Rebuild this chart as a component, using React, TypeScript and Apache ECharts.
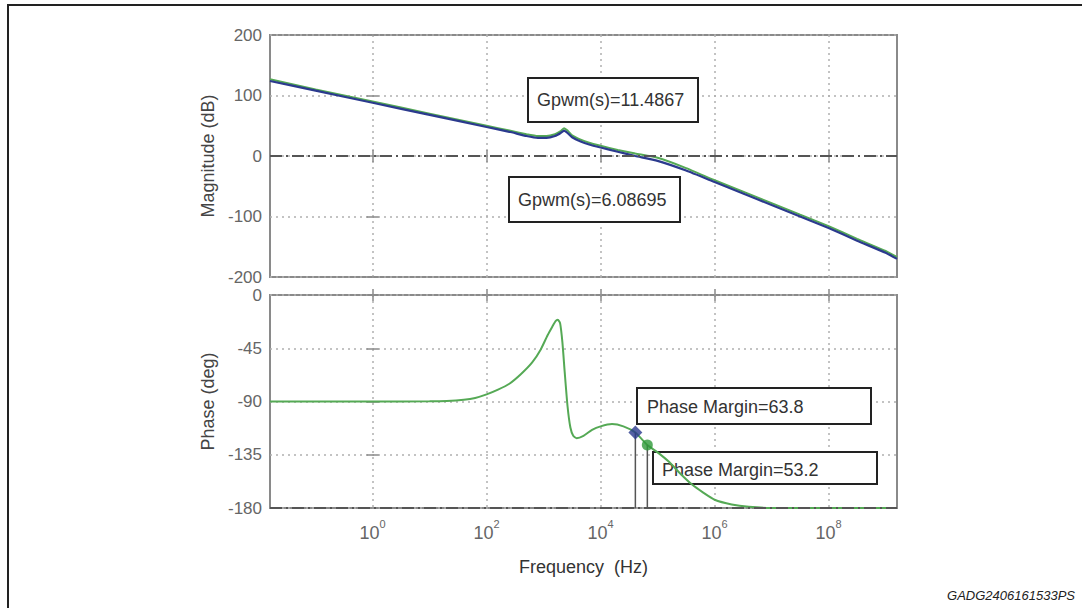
import React, { useEffect, useRef } from "react";
import * as echarts from "echarts";

// log10 of frequency (Hz) for magnitude curves
const magLogF = [-1.8, -1, 0, 1, 2, 2.4, 2.7, 2.9, 3.05, 3.2, 3.3, 3.36, 3.42, 3.5, 3.65, 3.8, 4.0, 4.3, 4.61, 5.0, 5.5, 6.0, 6.5, 7.0, 7.5, 8.0, 8.5, 9.0, 9.2];
const magBlue = [124, 108, 88, 68, 48, 40, 33, 30, 30, 33, 38, 42, 38, 31, 24, 19, 14, 7, 0, -8, -24, -43, -62, -81, -100, -119, -140, -160, -170];
const magGreen = [127, 110, 90, 70, 50, 42, 36, 33, 33, 36, 41, 46, 42, 34, 27, 22, 17, 10, 4, -3, -20, -40, -59, -78, -97, -116, -137, -157, -167];

// log10 of frequency (Hz) for the phase curve
const phaseLogF = [-1.8, 0, 1, 1.3, 1.6, 1.8, 2.0, 2.2, 2.4, 2.6, 2.8, 2.95, 3.07, 3.15, 3.21, 3.25, 3.29, 3.33, 3.37, 3.42, 3.47, 3.52, 3.58, 3.7, 3.85, 4.0, 4.2, 4.4, 4.61, 4.82, 5.0, 5.2, 5.4, 5.6, 5.8, 6.0, 6.3, 6.6, 7.0, 8.0, 9.2];
const phaseDeg = [-90, -90, -89.8, -89.5, -88.5, -87, -84, -80, -75, -67, -57, -46, -34, -27, -22, -21, -24, -40, -65, -94, -112, -119, -121, -119, -114, -111, -109, -111, -116.2, -126.8, -133, -141, -151, -160, -167, -173, -177, -179, -180, -180, -180];

// phase margin points: [log10 f, phase]
const pmBluePoint = [4.61, -116.2];
const pmGreenPoint = [4.82, -126.8];

const xTickExponents = [0, 2, 4, 6, 8];
const xMin = -1.8;
const xMax = 9.2;

const labelGpwm1 = "Gpwm(s)=11.4867";
const labelGpwm2 = "Gpwm(s)=6.08695";
const labelPm1 = "Phase Margin=63.8";
const labelPm2 = "Phase Margin=53.2";
const footer = "GADG2406161533PS";

const FONT = "Liberation Sans, Arial, Helvetica, sans-serif";
const BLUE = "#2b3a8e";
const GREEN = "#55a955";
const GRID_C = "#b0b0b0";
const BOX_C = "#8a8a8a";
const DASHDOT = [12, 4, 2, 4];

export default function App() {
  const ref = useRef<HTMLDivElement>(null);
  useEffect(() => {
    if (!ref.current) return;
    const chart = echarts.init(ref.current, null, { renderer: "svg" });

    const zip = (xs: number[], ys: number[]) => xs.map((x, i) => [x, ys[i]]);

    const xBase = (gridIndex: number, withLabels: boolean) => ({
      type: "value",
      gridIndex,
      min: xMin,
      max: xMax,
      position: "bottom",
      axisLine: { show: false },
      axisTick: {
        show: true,
        inside: true,
        length: 6,
        customValues: xTickExponents,
        lineStyle: { color: BOX_C, width: 1.5 },
      },
      splitLine: {
        show: true,
        lineStyle: { color: GRID_C, type: [2, 4], width: 1.5 },
      },
      axisLabel: withLabels
        ? {
            show: true,
            customValues: xTickExponents,
            margin: 10,
            formatter: (v: number) => `{b|10}{s|${Math.round(v)}}`,
            rich: {
              b: { fontSize: 18, fontFamily: FONT, color: "#666", lineHeight: 24, verticalAlign: "bottom" },
              s: { fontSize: 11, fontFamily: FONT, color: "#666", lineHeight: 12, verticalAlign: "top" },
            },
          }
        : { show: false },
    });
    const xTop = (gridIndex: number) => ({
      type: "value",
      gridIndex,
      min: xMin,
      max: xMax,
      position: "top",
      axisLine: { show: false },
      axisTick: { show: true, inside: true, length: 6, customValues: xTickExponents, lineStyle: { color: BOX_C, width: 1.5 } },
      splitLine: { show: false },
      axisLabel: { show: false },
    });
    const yLeft = (gridIndex: number, min: number, max: number, interval: number, name: string) => ({
      type: "value",
      gridIndex,
      min,
      max,
      interval,
      position: "left",
      name,
      nameLocation: "middle",
      nameGap: 52,
      nameTextStyle: { fontSize: 18, fontFamily: FONT, color: "#444" },
      axisLine: { show: false },
      axisTick: { show: true, inside: true, length: 6, lineStyle: { color: BOX_C, width: 1.5 } },
      splitLine: { show: true, lineStyle: { color: GRID_C, type: [2, 4], width: 1.5 } },
      axisLabel: { show: true, fontSize: 17, fontFamily: FONT, color: "#666", margin: 8 },
    });
    const yRight = (gridIndex: number, min: number, max: number, interval: number) => ({
      type: "value",
      gridIndex,
      min,
      max,
      interval,
      position: "right",
      axisLine: { show: false },
      axisTick: { show: true, inside: true, length: 6, lineStyle: { color: BOX_C, width: 1.5 } },
      splitLine: { show: false },
      axisLabel: { show: false },
    });

    const xAxisBottom = xBase(1, true) as any;
    xAxisBottom.name = "Frequency  (Hz)";
    xAxisBottom.nameLocation = "middle";
    xAxisBottom.nameGap = 50;
    xAxisBottom.nameTextStyle = { fontSize: 18, fontFamily: FONT, color: "#333" };

    const box = (x: number, y: number, w: number, h: number) => ({
      type: "rect",
      z: 1,
      shape: { x, y, width: w, height: h },
      style: { fill: "#fff", stroke: "#222", lineWidth: 2 },
    });
    const label = (x: number, y: number, text: string) => ({
      type: "text",
      z: 1,
      x,
      y,
      style: { text, fontSize: 18, fontFamily: FONT, fill: "#333", verticalAlign: "middle", align: "left" },
    });

    chart.setOption({
      animation: false,
      backgroundColor: "#fff",
      grid: [
        { left: 270, top: 35, width: 627, height: 242, show: true, borderColor: BOX_C, borderWidth: 2, backgroundColor: "transparent" },
        { left: 270, top: 295, width: 627, height: 213, show: true, borderColor: BOX_C, borderWidth: 2, backgroundColor: "transparent" },
      ],
      xAxis: [xBase(0, false), xTop(0), xAxisBottom, xTop(1)],
      yAxis: [
        yLeft(0, -200, 200, 100, "Magnitude (dB)"),
        yRight(0, -200, 200, 100),
        yLeft(1, -180, 0, 45, "Phase (deg)"),
        yRight(1, -180, 0, 45),
      ],
      graphic: [
        {
          type: "rect",
          z: 0,
          shape: { x: 8, y: 5, width: 1100, height: 700 },
          style: { fill: "none", stroke: "#222", lineWidth: 2 },
        },
        box(528, 78, 170, 44),
        label(537, 100, labelGpwm1),
        box(509, 177, 171, 45),
        label(518, 200, labelGpwm2),
        box(637, 388, 234, 36),
        label(647, 407, labelPm1),
        box(653, 452, 224, 32),
        label(662, 470, labelPm2),
        {
          type: "text",
          right: 7,
          top: 589,
          style: { text: footer, fontSize: 13, fontFamily: FONT, fontStyle: "italic", fill: "#222" },
        },
      ],
      series: [
        {
          type: "line",
          xAxisIndex: 0,
          yAxisIndex: 0,
          data: zip(magLogF, magGreen),
          showSymbol: false,
          symbol: "none",
          smooth: 0.15,
          lineStyle: { color: GREEN, width: 2 },
          markLine: {
            silent: true,
            symbol: "none",
            label: { show: false },
            lineStyle: { color: "#555", type: DASHDOT, width: 1.8 },
            data: [{ yAxis: 0 }],
          },
          z: 3,
        },
        {
          type: "line",
          xAxisIndex: 0,
          yAxisIndex: 0,
          data: zip(magLogF, magBlue),
          showSymbol: false,
          symbol: "none",
          smooth: 0.15,
          lineStyle: { color: BLUE, width: 2.2 },
          z: 4,
        },
        {
          type: "line",
          xAxisIndex: 2,
          yAxisIndex: 2,
          data: zip(phaseLogF, phaseDeg),
          showSymbol: false,
          symbol: "none",
          smooth: 0.2,
          lineStyle: { color: GREEN, width: 2 },
          markLine: {
            silent: true,
            symbol: "none",
            label: { show: false },
            lineStyle: { color: "#555", type: DASHDOT, width: 1.8 },
            data: [{ yAxis: -180 }],
          },
          z: 3,
        },
        {
          type: "line",
          xAxisIndex: 2,
          yAxisIndex: 2,
          data: [pmBluePoint, [pmBluePoint[0], -180]],
          showSymbol: false,
          symbol: "none",
          lineStyle: { color: "#555", width: 1.5 },
          z: 4,
        },
        {
          type: "line",
          xAxisIndex: 2,
          yAxisIndex: 2,
          data: [pmGreenPoint, [pmGreenPoint[0], -180]],
          showSymbol: false,
          symbol: "none",
          lineStyle: { color: "#555", width: 1.5 },
          z: 4,
        },
        {
          type: "scatter",
          xAxisIndex: 2,
          yAxisIndex: 2,
          data: [pmBluePoint],
          symbol: "diamond",
          symbolSize: 14,
          itemStyle: { color: BLUE },
          z: 5,
        },
        {
          type: "scatter",
          xAxisIndex: 2,
          yAxisIndex: 2,
          data: [pmGreenPoint],
          symbol: "circle",
          symbolSize: 11,
          itemStyle: { color: "#2f9a3a" },
          z: 5,
        },
      ],
    });
    return () => chart.dispose();
  }, []);

  return (
    <div
      ref={ref}
      style={{ position: "fixed", left: 0, top: 0, width: 1082, height: 608, background: "#fff" }}
    />
  );
}
